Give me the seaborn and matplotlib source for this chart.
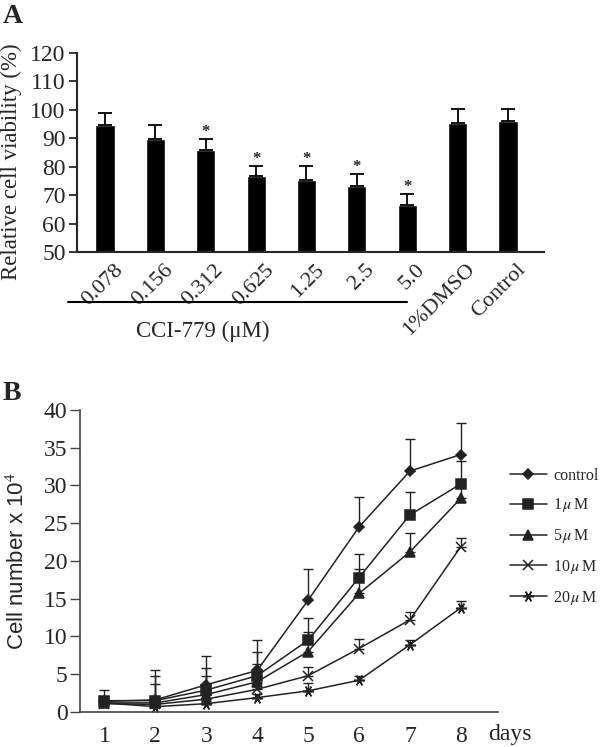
import numpy as np
import pandas as pd
import seaborn as sns
import matplotlib.pyplot as plt
from matplotlib.transforms import ScaledTranslation, blended_transform_factory

# Panel A: relative viability
conc_labels = ['0.078', '0.156', '0.312', '0.625', '1.25', '2.5', '5.0', '1%DMSO', 'Control']
viability = [94.7, 89.8, 85.8, 76.8, 75.4, 73.3, 66.5, 95.3, 96.2]
viability_err = [4.1, 4.7, 4.1, 3.6, 5.0, 4.1, 3.9, 4.9, 4.0]
significant = [False, False, True, True, True, True, True, False, False]
n_cci = 7

# Panel B: growth curves
days = [1, 2, 3, 4, 5, 6, 7, 8]
control = [1.4, 1.6, 3.6, 5.5, 14.8, 24.5, 31.9, 34.1]
um1 = [1.5, 1.5, 2.9, 4.8, 9.5, 17.8, 26.1, 30.2]
um5 = [1.2, 1.2, 2.3, 4.0, 8.0, 15.7, 21.2, 28.3]
um10 = [1.1, 1.0, 1.7, 3.0, 4.8, 8.4, 12.2, 21.9]
um20 = [1.2, 0.7, 1.1, 1.9, 2.8, 4.2, 8.9, 13.8]
control_err = [1.5, 4.0, 3.8, 4.0, 4.2, 4.0, 4.2, 4.2]
um1_err = [0.5, 3.2, 2.9, 3.1, 2.9, 3.1, 3.0, 3.1]
um5_err = [0.4, 2.5, 2.4, 2.4, 2.6, 3.3, 2.5, 2.4]
um10_err = [0.3, 0.4, 0.5, 0.8, 1.2, 1.2, 1.1, 1.2]
um20_err = [0.2, 0.2, 0.3, 0.5, 1.0, 0.5, 0.6, 0.9]
group_labels = ['control', '1$\\,\\mu\\,$M', '5$\\,\\mu\\,$M', '10$\\,\\mu\\,$M', '20$\\,\\mu\\,$M']
group_markers = ['D', 's', '^', 'x', (6, 2, 90)]
group_sizes = [5.5, 6.5, 7, 7, 8]

sns.set_style('ticks')
plt.rcParams['font.family'] = ['Liberation Serif', 'DejaVu Serif']
plt.rcParams['mathtext.fontset'] = 'stix'

fig = plt.figure(figsize=(6, 7.47), dpi=100)

# ---- A ----
axA = fig.add_axes([0.128, 0.6627, 0.779, 0.2664])
df_a = pd.DataFrame({'group': conc_labels, 'viability': viability})
sns.barplot(data=df_a, x='group', y='viability', color='black', saturation=1,
            width=0.38, ax=axA)
pos = np.arange(len(conc_labels))
axA.errorbar(pos, viability, yerr=[np.zeros(len(pos)), viability_err], fmt='none',
             ecolor='black', elinewidth=1.3, capsize=5, capthick=1.3)
for i, sig in enumerate(significant):
    if sig:
        axA.text(i, viability[i] + viability_err[i] + 1.0, '*', ha='center',
                 va='baseline', fontsize=12, fontweight='bold')
axA.set_ylim(50, 120)
axA.set_yticks(range(50, 121, 10))
axA.set_xlim(-0.56, 8.72)
sns.despine(ax=axA)
for s in ['left', 'bottom']:
    axA.spines[s].set_linewidth(1.5)
axA.tick_params(axis='y', length=6, width=1.3, labelsize=17, pad=2)
axA.tick_params(axis='x', length=0, labelsize=16, pad=6)
axA.set_xticks(pos)
axA.set_xticklabels(conc_labels, rotation=45, ha='right', rotation_mode='anchor')
for lab in axA.get_xticklabels():
    lab.set_transform(lab.get_transform() + ScaledTranslation(6 / 72, 0, fig.dpi_scale_trans))
axA.set_xlabel('')
axA.set_ylabel('Relative cell viability (%)', fontsize=16.5)
axA.yaxis.set_label_coords(-0.118, 0.452)

trans = blended_transform_factory(axA.transData, axA.transAxes)
axA.plot([-0.74, n_cci - 1], [-0.251, -0.251], transform=trans, color='black',
         lw=1.5, clip_on=False)
axA.text((n_cci - 1) / 2 - 1.05, -0.40, 'CCI-779 (μM)', transform=trans,
         ha='center', va='center', fontsize=16.5)

# ---- B ----
axB = fig.add_axes([0.1333, 0.0469, 0.6967, 0.4043])
dark = '#222222'
series = [control, um1, um5, um10, um20]
errors = [control_err, um1_err, um5_err, um10_err, um20_err]
for vals, err, lab, mk, ms in zip(series, errors, group_labels, group_markers, group_sizes):
    axB.errorbar(days, vals, yerr=[np.zeros(len(days)), err], fmt='none',
                 ecolor=dark, elinewidth=1, capsize=3.5, capthick=1)
    sns.lineplot(x=days, y=vals, ax=axB, color=dark, linewidth=1.1, marker=mk,
                 markersize=ms, markeredgecolor=dark, markeredgewidth=1.1, label=lab)

axB.set_ylim(0, 40)
axB.set_yticks(range(0, 41, 5))
axB.set_xlim(0.52, 8.73)
axB.set_xticks(days)
sns.despine(ax=axB)
for s in ['left', 'bottom']:
    axB.spines[s].set_linewidth(1.2)
    axB.spines[s].set_color('#444444')
axB.tick_params(axis='y', length=7, width=1, color='#444444', labelsize=17, pad=2)
axB.tick_params(axis='x', length=0, labelsize=17, pad=10)
axB.set_xlabel('')
axB.set_ylabel('Cell number x 10$^4$', fontsize=16, family=['Liberation Sans', 'DejaVu Sans'])
axB.yaxis.set_label_coords(-0.122, 0.5)
transB = blended_transform_factory(axB.transData, axB.transAxes)
axB.text(8.53, -0.073, 'days', transform=transB, ha='left', va='center', fontsize=17)

axB.legend(loc='center left', bbox_to_anchor=(0.85, 0.281), bbox_transform=fig.transFigure,
           frameon=False, fontsize=11.5, handlelength=2.3, handletextpad=0.4,
           labelspacing=0.8, borderpad=0, borderaxespad=0)

fig.text(0.004, 0.995, 'A', fontsize=20, fontweight='bold', va='top')
fig.text(0.004, 0.49, 'B', fontsize=20, fontweight='bold', va='top')

fig.savefig('out.png', dpi=100)
